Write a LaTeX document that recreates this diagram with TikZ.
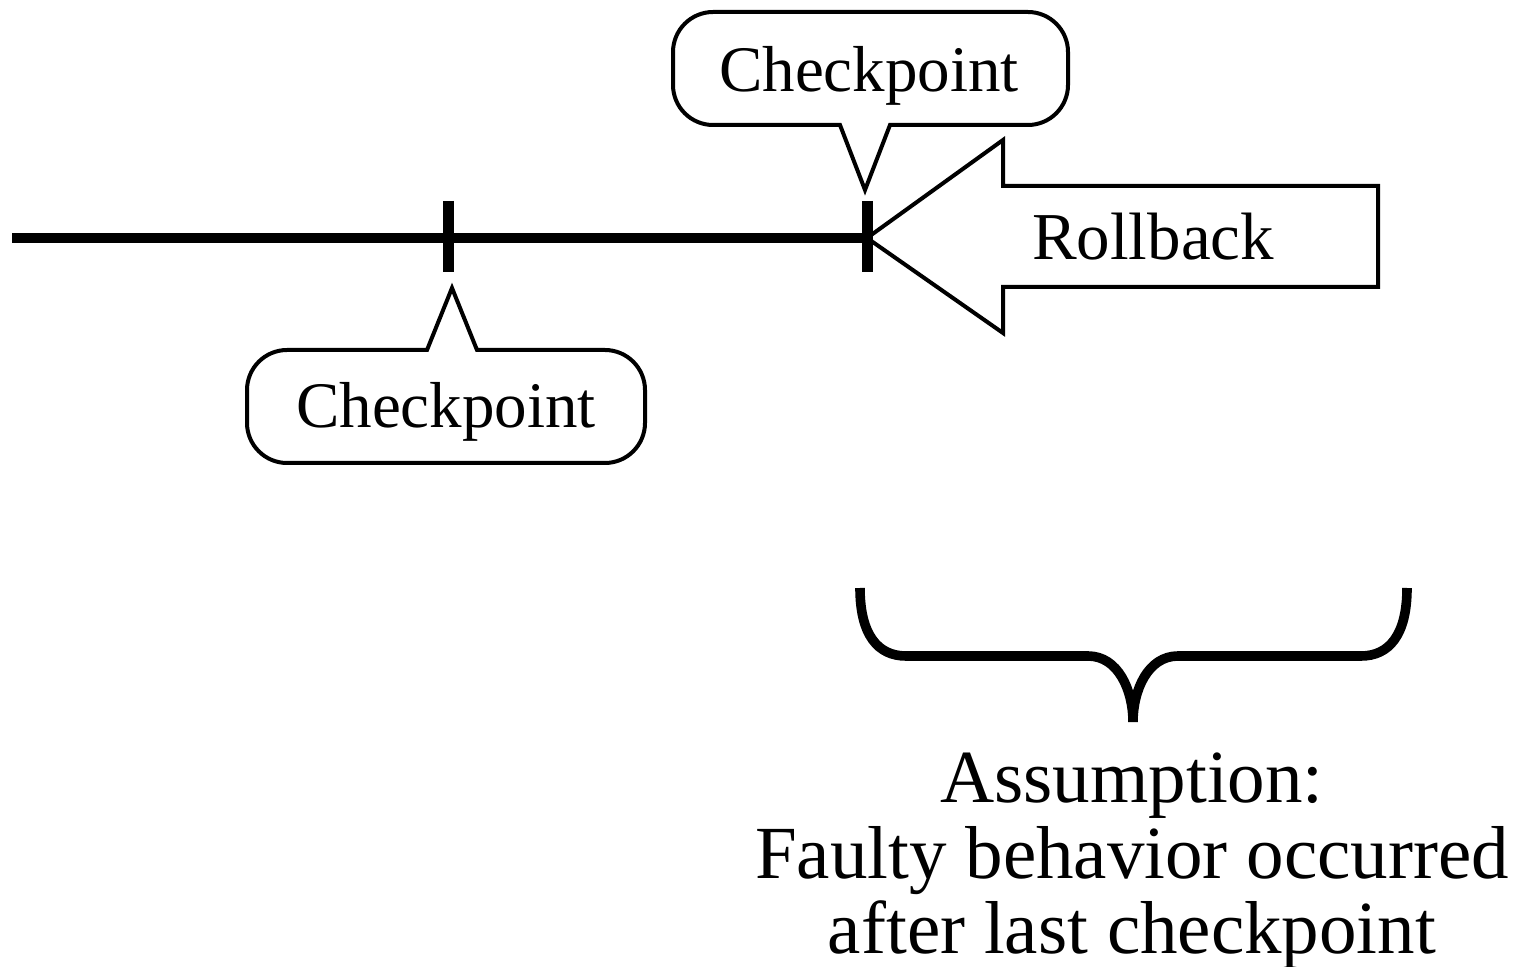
\documentclass[tikz,border=0pt]{standalone}
\usepackage{fontspec}
\setmainfont{Liberation Serif}
\begin{document}
\begin{tikzpicture}[x=0.5pt,y=-0.5pt,
  timeline/.style={line width=5pt},
  tick/.style={line width=5.5pt},
  outline/.style={line width=2pt, line join=miter},
  bracestyle/.style={line width=4.8pt},
  label/.style={font=\fontsize{32.5pt}{36pt}\selectfont, anchor=base, inner sep=0pt},
  note/.style={font=\fontsize{37.5pt}{40pt}\selectfont, anchor=base, inner sep=0pt}]
\useasboundingbox (0,0) rectangle (1516,967);

% time axis with the two checkpoints
\coordinate (start) at (12,238);
\coordinate (cp1) at (448,238);
\coordinate (cp2) at (867,238);
\draw[timeline] (start) -- (cp2);
\draw[tick] ([yshift=18.5pt]cp1) -- ([yshift=-17pt]cp1);
\draw[tick] ([yshift=18.5pt]cp2) -- ([yshift=-17pt]cp2);

% upper callout
\draw[outline] (840,125) -- (865,190) -- (890,125) -- (1028,125)
  .. controls (1050,125) and (1068,107) .. (1068,85) -- (1068,52)
  .. controls (1068,30) and (1050,12) .. (1028,12) -- (713,12)
  .. controls (691,12) and (673,30) .. (673,52) -- (673,85)
  .. controls (673,107) and (691,125) .. (713,125) -- cycle;
\node[label] (cpup) at (869,92) {Checkpoint};

% lower callout
\draw[outline] (477,350) -- (452,288) -- (427,350) -- (287,350)
  .. controls (265,350) and (247,368) .. (247,390) -- (247,423)
  .. controls (247,445) and (265,463) .. (287,463) -- (605,463)
  .. controls (627,463) and (645,445) .. (645,423) -- (645,390)
  .. controls (645,368) and (627,350) .. (605,350) -- cycle;
\node[label] (cplow) at (446,428) {Checkpoint};

% rollback arrow
\draw[outline] (cp2) -- (1003,140) -- (1003,186) -- (1378,186) -- (1378,287)
  -- (1003,287) -- (1003,333) -- cycle;
\node[label, font=\fontsize{33.5pt}{36pt}\selectfont] (rollback) at (1153,260) {Rollback};

% brace over the span after the last checkpoint
\coordinate (bl) at (860,588);
\coordinate (br) at (1407,588);
\coordinate (btip) at (1133,722);
\draw[bracestyle] (bl) .. controls (860,635) and (878,656) .. (906,656) -- (1088,656)
  .. controls (1118,656) and (1133,690) .. (btip);
\draw[bracestyle] (br) .. controls (1407,635) and (1389,656) .. (1361,656) -- (1178,656)
  .. controls (1148,656) and (1133,690) .. (btip);

% assumption text
\node[note] (l1) at (1132,802) {Assumption:};
\node[note] (l2) at (1132,878) {Faulty behavior occurred};
\node[note] (l3) at (1132,953) {after last checkpoint};
\end{tikzpicture}
\end{document}
